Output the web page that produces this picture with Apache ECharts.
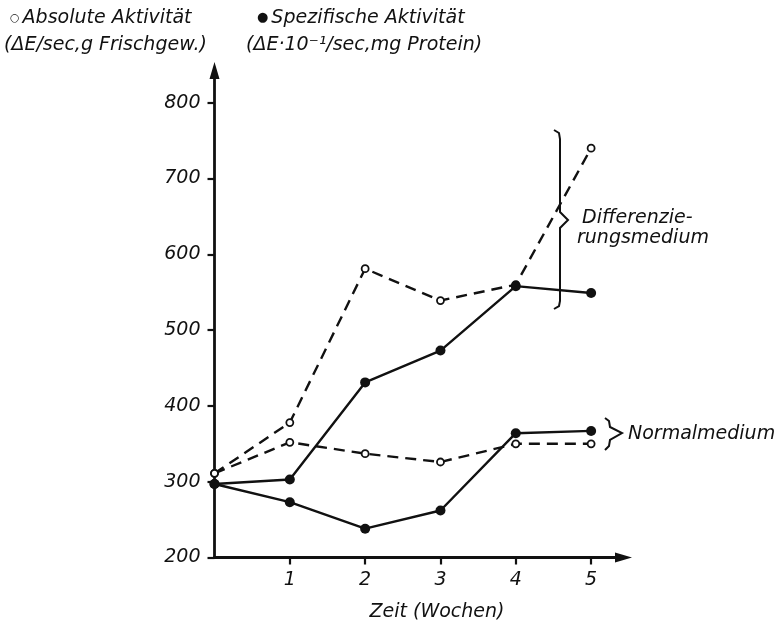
<!DOCTYPE html>
<html><head><meta charset="utf-8">
<script src="https://cdn.jsdelivr.net/npm/echarts@6/dist/echarts.min.js"></script>
<style>html,body{margin:0;padding:0;background:#fff}#c{width:779px;height:626px}</style>
</head><body><div id="c"></div>
<script>
// Data
const weeks = [0, 1, 2, 3, 4, 5];
const diffAbsolute = [311, 378, 581, 539, 560, 740];   // Differenzierungsmedium, absolute Aktivität (open circles, dashed)
const diffSpecific = [297, 303, 431, 473, 558, 549];   // Differenzierungsmedium, spezifische Aktivität (filled, solid)
const normAbsolute = [311, 352, 337, 326, 350, 350];   // Normalmedium, absolute Aktivität
const normSpecific = [297, 273, 238, 262, 364, 367];   // Normalmedium, spezifische Aktivität
const xTickValues = [1, 2, 3, 4, 5];
const yTickValues = [200, 300, 400, 500, 600, 700, 800];

const FONT = 'DejaVu Sans';
const INK = '#111';
const pairs = ys => weeks.map((w, i) => [w, ys[i]]);

function openSeries(name, ys) {
  return {
    name, type: 'line', data: pairs(ys), z: 2,
    symbol: 'circle', symbolSize: 7,
    itemStyle: { color: '#fff', borderColor: INK, borderWidth: 1.8 },
    lineStyle: { color: INK, width: 2.4, type: [11, 7] },
    emphasis: { disabled: true }, animation: false
  };
}
function filledSeries(name, ys) {
  return {
    name, type: 'line', data: pairs(ys), z: 3,
    symbol: 'circle', symbolSize: 10,
    itemStyle: { color: INK, borderColor: INK, borderWidth: 0 },
    lineStyle: { color: INK, width: 2.4, type: 'solid' },
    emphasis: { disabled: true }, animation: false
  };
}

const txt = (text, x, y, align) => ({
  type: 'text', x, y,
  style: {
    text, fill: INK, fontFamily: FONT, fontStyle: 'italic', fontSize: 19,
    verticalAlign: 'middle', align: align || 'left',
    rich: {
      o: { fontSize: 11, fontFamily: FONT, fill: INK, padding: [0, 3, 0, 0] },
      d: { fontSize: 13, fontFamily: FONT, fill: INK, padding: [0, 3, 0, 0] }
    }
  }
});

const chart = echarts.init(document.getElementById('c'), null, { renderer: 'canvas' });
chart.setOption({
  animation: false,
  backgroundColor: '#fff',
  grid: { left: 214.5, top: 70.5, right: 155.5, bottom: 68.5, containLabel: false },
  xAxis: {
    type: 'value', min: 0, max: 5.43, interval: 1,
    splitLine: { show: false },
    axisLine: { lineStyle: { color: INK, width: 2.8 }, symbol: ['none', 'triangle'], symbolSize: [10, 17] },
    axisTick: { show: true, length: 7, lineStyle: { color: INK, width: 2.2 }, customValues: xTickValues },
    axisLabel: { customValues: xTickValues, margin: 13, color: INK, fontFamily: FONT, fontStyle: 'italic', fontSize: 19 }
  },
  yAxis: {
    type: 'value', min: 200, max: 842.5, interval: 100,
    splitLine: { show: false },
    axisLine: { lineStyle: { color: INK, width: 2.8 }, symbol: ['none', 'triangle'], symbolSize: [10, 17] },
    axisTick: { show: true, length: 7, lineStyle: { color: INK, width: 2.2 }, customValues: yTickValues },
    axisLabel: { customValues: yTickValues, margin: 14, color: INK, fontFamily: FONT, fontStyle: 'italic', fontSize: 19 }
  },
  series: [
    openSeries('Normal absolut', normAbsolute),
    openSeries('Differenzierung absolut', diffAbsolute),
    filledSeries('Normal spezifisch', normSpecific),
    filledSeries('Differenzierung spezifisch', diffSpecific)
  ],
  graphic: [
    txt('{o|○}Absolute Aktivität', 10, 18),
    txt('(ΔE/sec,g Frischgew.)', 4, 45),
    txt('{d|●}Spezifische Aktivität', 257, 18),
    txt('(ΔE·10⁻¹/sec,mg Protein)', 246, 45),
    txt('Differenzie-', 582, 218),
    txt('rungsmedium', 577, 238),
    txt('Normalmedium', 628, 434),
    txt('Zeit (Wochen)', 437, 612, 'center'),
    { type: 'polyline', shape: { points: [[554,130],[559,133],[560,139],[560,212],[568,220],[560,228],[560,301],[559,306],[554,309]] },
      style: { stroke: INK, lineWidth: 2, fill: null } },
    { type: 'polyline', shape: { points: [[605,418],[609,421],[610,427],[622,433],[610,440],[609,446],[605,450]] },
      style: { stroke: INK, lineWidth: 2, fill: null } }
  ]
});
</script></body></html>
